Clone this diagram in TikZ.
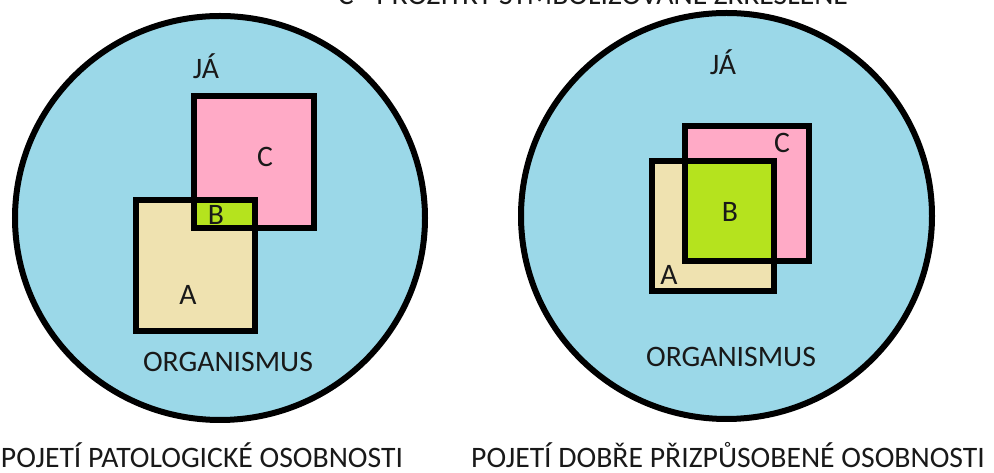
\documentclass[tikz,border=0pt]{standalone}
\usepackage{fontspec}
\setmainfont{Carlito}
\definecolor{skyc}{HTML}{9BD8E8}
\definecolor{pinkc}{HTML}{FFAAC6}
\definecolor{tanc}{HTML}{EFE2B0}
\definecolor{greenc}{HTML}{B5E31E}
\begin{document}
\begin{tikzpicture}[x=1pt,y=1pt,
  lbl/.style={font=\fontsize{29.7}{31}\selectfont, text=black!90, inner sep=0pt},
  ring/.style={fill=skyc, draw=black, line width=6pt},
  sq/.style={draw=black, line width=6pt}]
\useasboundingbox (0,0) rectangle (994,473);
% circles
\draw[ring] (220,255) circle [x radius=205, y radius=202];
\draw[ring] (726.5,257) circle [x radius=205.5, y radius=203];
% left squares
\fill[pinkc] (193.5,244.5) rectangle (313.5,376.5);
\fill[tanc] (135.5,141.5) rectangle (254.5,272.5);
\fill[greenc] (193.5,244.5) rectangle (254.5,272.5);
\draw[sq] (193.5,244.5) rectangle (313.5,376.5);
\draw[sq] (135.5,141.5) rectangle (254.5,272.5);
% right squares
\fill[pinkc] (685,212) rectangle (809,347);
\fill[tanc] (652,182) rectangle (774,312);
\fill[greenc] (685,212) rectangle (774,312);
\draw[sq] (685,212) rectangle (809,347);
\draw[sq] (652,182) rectangle (774,312);
% labels left
\node[lbl] (ja1) at (206,407) {JÁ};
\node[lbl] (c1) at (265,316) {C};
\node[lbl] (b1) at (216,258) {B};
\node[lbl] (a1) at (188,178) {A};
\node[lbl] (org1) at (228,111) {ORGANISMUS};
% labels right
\node[lbl] (ja2) at (723,411) {JÁ};
\node[lbl] (c2) at (782,330) {C};
\node[lbl] (b2) at (730,261) {B};
\node[lbl] (a2) at (669,198) {A};
\node[lbl] (org2) at (731,116) {ORGANISMUS};
% captions
\node[lbl, anchor=base] (cap1) at (202,5) {POJETÍ PATOLOGICKÉ OSOBNOSTI};
\node[lbl, anchor=base] (cap2) at (728,5) {POJETÍ DOBŘE PŘIZPŮSOBENÉ OSOBNOSTI};
\node[lbl, anchor=base] (top) at (593,468) {C - PROŽITKY SYMBOLIZOVANÉ ZKRESLENĚ};
\end{tikzpicture}
\end{document}
